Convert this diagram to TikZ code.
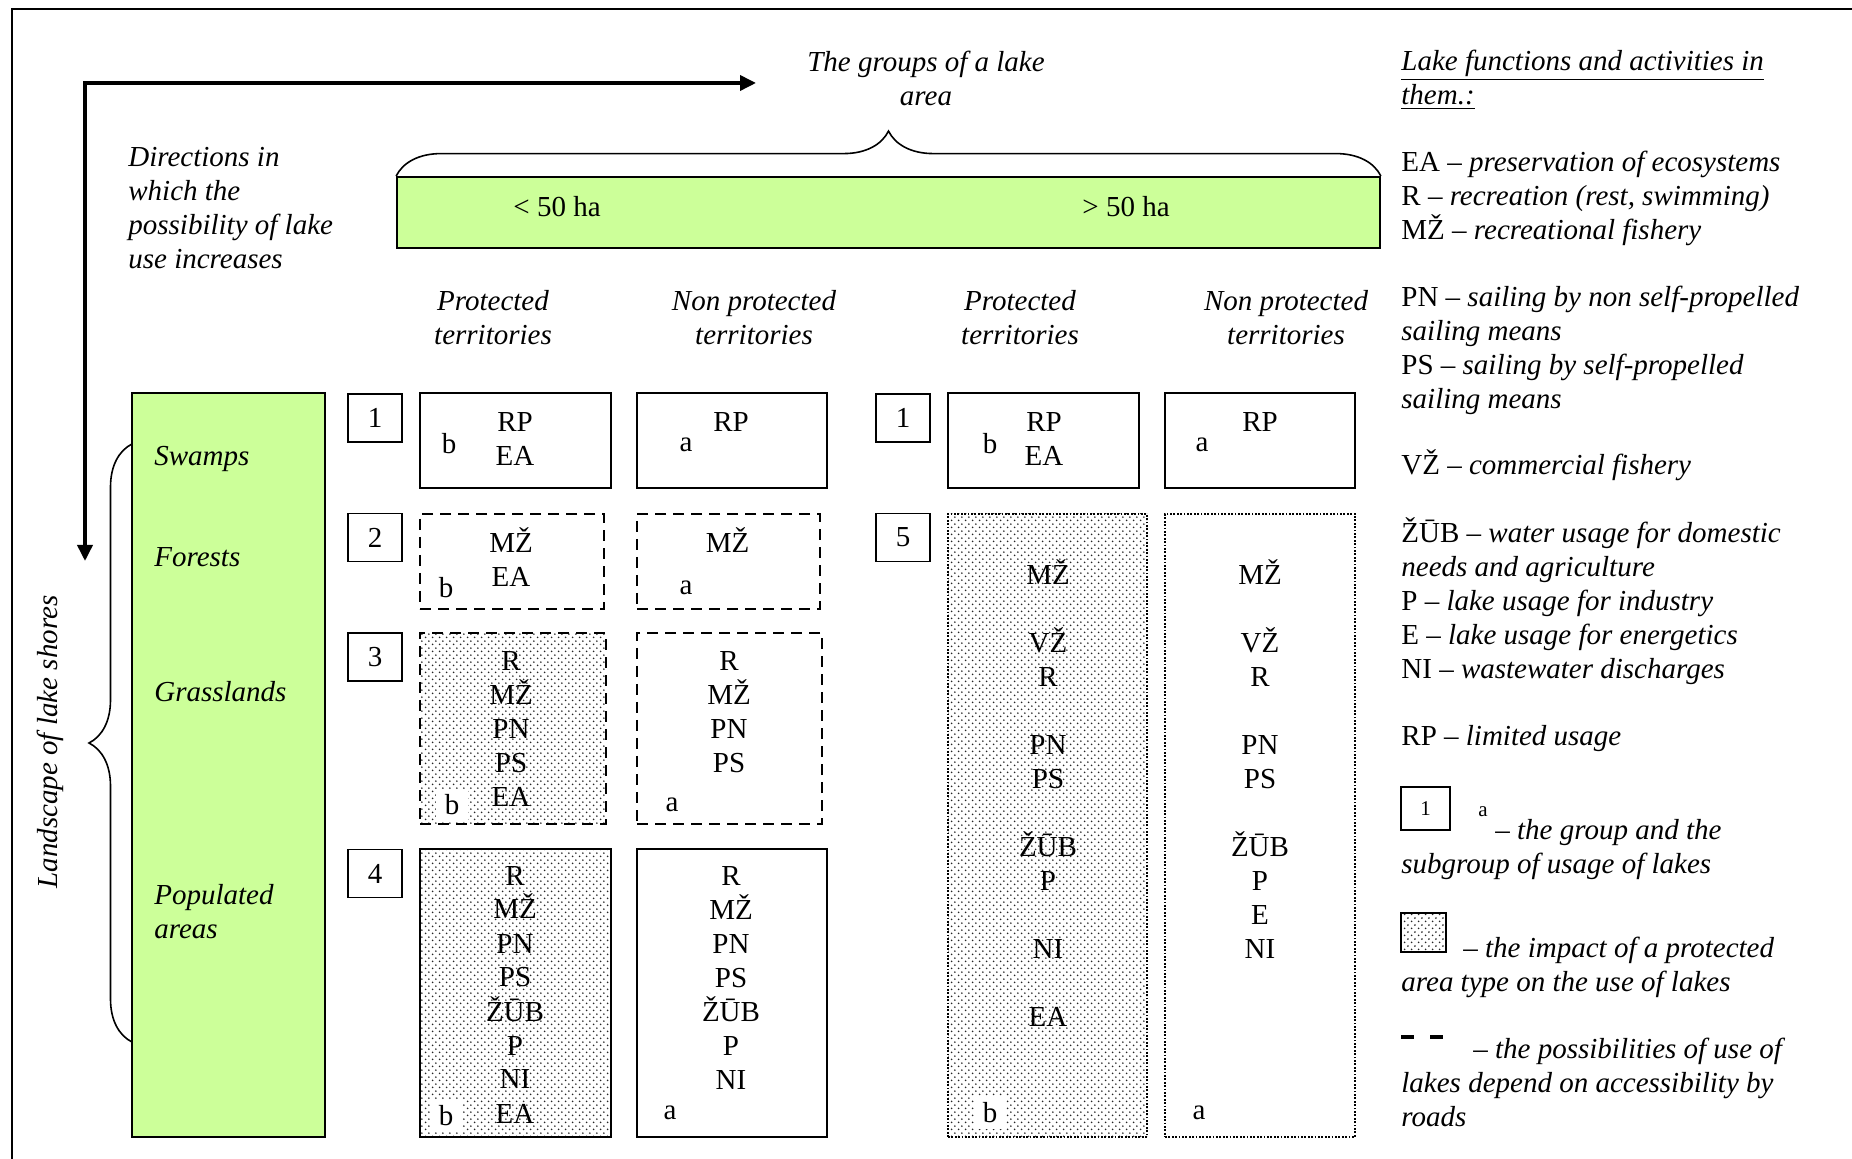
\documentclass[tikz,border=0pt]{standalone}
\usepackage{fontspec}
\setmainfont{Liberation Serif}
\usetikzlibrary{arrows.meta, positioning, decorations.pathreplacing, patterns.meta}
\definecolor{shoregreen}{RGB}{204, 255, 153}
\newcommand{\lakefont}{\fontsize{14.5}{17}\selectfont}
\newcommand{\keyfont}{\fontsize{10.5}{12}\selectfont}
\pgfdeclarepattern{
  name=stipple,
  type=uncolored,
  bottom left={\pgfpoint{0pt}{0pt}},
  top right={\pgfpoint{3.6pt}{3.6pt}},
  tile size={\pgfpoint{3.6pt}{3.6pt}},
  code={
    \pgfpathcircle{\pgfpoint{0.9pt}{0.9pt}}{0.52pt}
    \pgfpathcircle{\pgfpoint{2.7pt}{2.7pt}}{0.52pt}
    \pgfusepath{fill}
  }
}

\begin{document}
\begin{tikzpicture}[x=0.5pt, y=-0.5pt,
  every node/.style={font=\lakefont},
  ital/.style={font=\lakefont\itshape},
  greenbox/.style={draw, line width=0.9pt, fill=shoregreen, inner sep=0pt},
  numbox/.style={draw, line width=0.8pt, minimum width=27pt, minimum height=24pt, inner sep=0pt},
  usebox/.style={draw, line width=0.9pt, inner sep=0pt},
  roadbox/.style={usebox, line width=1.4pt, dash pattern=on 5.5pt off 3.5pt},
  widebox/.style={usebox, line width=1.1pt, dash pattern=on 0.9pt off 0.8pt},
  impact/.style={pattern=stipple, pattern color=black!85},
  uses/.style={inner sep=0pt, align=center},
  subl/.style={inner sep=0pt, fill=white, minimum width=16pt, minimum height=16pt},
  legend/.style={inner sep=0pt, anchor=north west, align=left}
]
\useasboundingbox (0,0) rectangle (1852,1159);
\draw[line width=0.8pt] (12,1159) -- (12,9) -- (1852,9);

\coordinate (origin) at (85,83);
\coordinate (areaend) at (756,83);
\coordinate (shoreend) at (85,561);
\draw[line width=1.8pt, {Triangle[length=8pt,width=7.5pt]}-{Triangle[length=8pt,width=7.5pt]}] (shoreend) -- (origin) -- (areaend);

\node[ital, align=center] (areatitle) at (926,78) {The groups of a lake\\area};
\node[ital, legend] (directions) at (128,147) {Directions in\\which the\\possibility of lake\\use increases};

\node[greenbox, minimum width=491.5pt, minimum height=35.5pt] (areabar) at (888.5,212.5) {};
\draw[line width=0.8pt, decorate, decoration={brace, amplitude=22.5pt}] (areabar.north west) -- (areabar.north east);
\node (small) at (557,207) {< 50 ha};
\node (large) at (1126,207) {> 50 ha};

\node[ital, align=center] (hd-sp) at (493,318) {Protected\\territories};
\node[ital, align=center] (hd-sf) at (754,318) {Non protected\\territories};
\node[ital, align=center] (hd-lp) at (1020,318) {Protected\\territories};
\node[ital, align=center] (hd-lf) at (1286,318) {Non protected\\territories};

\node[greenbox, minimum width=96.5pt, minimum height=372pt] (shores) at (228.5,765) {};
\coordinate (shoretop) at (132,444);
\coordinate (shorebot) at (132,1042);
\draw[line width=0.8pt, decorate, decoration={brace, amplitude=21.5pt}] (shorebot) -- (shoretop);
\node[ital, rotate=90] (landscape) at (50,742) {Landscape of lake shores};
\node[ital, anchor=base west, inner sep=0pt] (swamps) at (154,466) {Swamps};
\node[ital, anchor=base west, inner sep=0pt] (forests) at (154,567) {Forests};
\node[ital, anchor=base west, inner sep=0pt] (grass) at (154,702) {Grasslands};
\node[ital, legend] (populated) at (154,884) {Populated\\areas};

\node[numbox] (grp1) at (375,418) {1};
\node[numbox] (grp2) at (375,537.5) {2};
\node[numbox] (grp3) at (375,657) {3};
\node[numbox] (grp4) at (375,873.5) {4};
\node[numbox] (grp1l) at (903,418) {1};
\node[numbox] (grp5) at (903,537.5) {5};

\node[usebox, minimum width=95.5pt, minimum height=47.5pt] (sp1) at (515.5,440.5) {};
\node[uses] (sp1-use) at (515,439) {RP\\EA};
\node[subl] (sp1-sub) at (449,444) {b};
\node[usebox, minimum width=95pt, minimum height=47.5pt] (sf1) at (732,440.5) {};
\node[uses] (sf1-use) at (731,422) {RP};
\node[subl] (sf1-sub) at (686,445) {a};

\node[roadbox, minimum width=92pt, minimum height=47.5pt] (sp2) at (512,561.5) {};
\node[uses] (sp2-use) at (511,557) {MŽ\\EA};
\node[subl] (sp2-sub) at (446,588) {b};
\node[roadbox, minimum width=91.5pt, minimum height=47.5pt] (sf2) at (728.5,561.5) {};
\node[uses] (sf2-use) at (727.5,540) {MŽ};
\node[subl] (sf2-sub) at (686,588) {a};

\node[roadbox, impact, minimum width=93pt, minimum height=95.5pt] (sp3) at (513,728.5) {};
\node[uses] (sp3-use) at (511,729) {R\\MŽ\\PN\\PS\\EA};
\node[subl] (sp3-sub) at (452,805) {b};
\node[roadbox, minimum width=92.5pt, minimum height=95.5pt] (sf3) at (729.5,728.5) {};
\node[uses] (sf3-use) at (729,712) {R\\MŽ\\PN\\PS};
\node[subl] (sf3-sub) at (672,805) {a};

\node[usebox, impact, minimum width=95.5pt, minimum height=144pt] (sp4) at (515.5,993) {};
\node[uses] (sp4-use) at (515,994.5) {R\\MŽ\\PN\\PS\\ŽŪB\\P\\NI\\EA};
\node[subl] (sp4-sub) at (446,1116) {b};
\node[usebox, minimum width=95pt, minimum height=144pt] (sf4) at (732,993) {};
\node[uses] (sf4-use) at (731,978) {R\\MŽ\\PN\\PS\\ŽŪB\\P\\NI};
\node[subl] (sf4-sub) at (670,1113) {a};

\node[usebox, minimum width=95.5pt, minimum height=47.5pt] (lp1) at (1043.5,440.5) {};
\node[uses] (lp1-use) at (1044,439) {RP\\EA};
\node[subl] (lp1-sub) at (990,444) {b};
\node[usebox, minimum width=95pt, minimum height=47.5pt] (lf1) at (1260,440.5) {};
\node[uses] (lf1-use) at (1260,422) {RP};
\node[subl] (lf1-sub) at (1202,445) {a};

\node[widebox, impact, minimum width=99.5pt, minimum height=311.5pt] (lp5) at (1047.5,825.5) {};
\node[uses] (lp5-use) at (1048,793) {MŽ\\[17pt]VŽ\\R\\[17pt]PN\\PS\\[17pt]ŽŪB\\P\\[17pt]NI\\[17pt]EA};
\node[subl] (lp5-sub) at (990,1113) {b};
\node[widebox, minimum width=95pt, minimum height=311.5pt] (lf5) at (1260,825.5) {};
\node[uses] (lf5-use) at (1260,759) {MŽ\\[17pt]VŽ\\R\\[17pt]PN\\PS\\[17pt]ŽŪB\\P\\E\\NI};
\node[subl] (lf5-sub) at (1199,1113) {a};

\node[legend, font=\lakefont\itshape] (key-title) at (1401,50) {\underline{Lake functions and activities in}\\\underline{them.:}};
\node[legend] (key-ea) at (1401,151) {EA – \textit{preservation of ecosystems}\\R – \textit{recreation (rest, swimming)}\\MŽ – \textit{recreational fishery}};
\node[legend] (key-pn) at (1401,286) {PN – \textit{sailing by non self-propelled}\\\textit{sailing means}\\PS – \textit{sailing by self-propelled}\\\textit{sailing means}};
\node[legend] (key-vz) at (1401,449) {VŽ – \textit{commercial fishery}};
\node[legend] (key-zub) at (1401,517) {ŽŪB – \textit{water usage for domestic}\\\textit{needs and agriculture}\\P – \textit{lake usage for industry}\\E – \textit{lake usage for energetics}\\NI – \textit{wastewater discharges}};
\node[legend] (key-rp) at (1401,725) {RP – \textit{limited usage}};

\node[draw, line width=0.8pt, inner sep=0pt, minimum width=24.5pt, minimum height=21.5pt, font=\keyfont] (key-num) at (1425.5,808.5) {1};
\node[inner sep=0pt, font=\keyfont] (key-sub) at (1483,812) {a};
\node[legend, font=\lakefont\itshape] (key-group) at (1401,819) {\hspace*{47pt}– the group and the\\subgroup of usage of lakes};
\node[draw, line width=0.8pt, impact, inner sep=0pt, minimum width=22.5pt, minimum height=19.5pt] (key-dots) at (1423.5,932.5) {};
\node[legend, font=\lakefont\itshape] (key-impact) at (1401,937) {\hspace*{31pt}– the impact of a protected\\area type on the use of lakes};
\coordinate (dash-l) at (1401,1037);
\coordinate (dash-r) at (1443,1037);
\draw[line width=1.8pt, dash pattern=on 6.5pt off 8pt] (dash-l) -- (dash-r);
\node[legend, font=\lakefont\itshape] (key-roads) at (1401,1038) {\hspace*{36pt}– the possibilities of use of\\lakes depend on accessibility by\\roads};
\end{tikzpicture}
\end{document}
